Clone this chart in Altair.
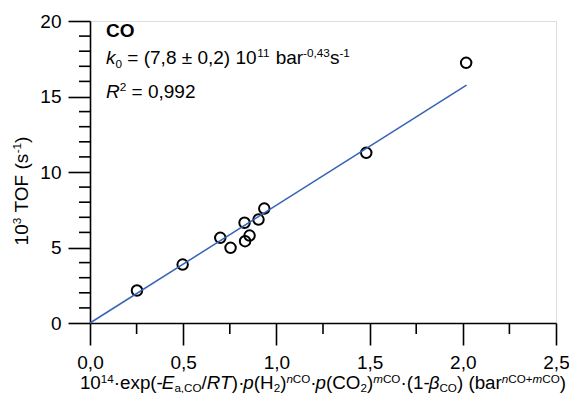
import altair as alt
import pandas as pd

# ---------------- data ----------------
x_vals = [0.252, 0.497, 0.699, 0.754, 0.829, 0.832, 0.856, 0.904, 0.935, 1.482, 2.018]
y_vals = [2.15, 3.87, 5.64, 4.98, 6.64, 5.42, 5.79, 6.85, 7.58, 11.27, 17.23]
fit_x = [0.0, 2.02]
fit_y = [0.0, 15.76]
x_major = [0.0, 0.5, 1.0, 1.5, 2.0, 2.5]
x_minor = [0.25, 0.75, 1.25, 1.75, 2.25]
y_major = [0, 5, 10, 15, 20]
y_minor = [1, 2, 3, 4, 6, 7, 8, 9, 11, 12, 13, 14, 16, 17, 18, 19]

# text pieces: (text, kind)  n=normal, i=italic, b=bold, sup/sub (+i = italic)
legend_line1 = [("CO", "b")]
legend_line2 = [("k", "i"), ("0", "sub"), (" = (7,8 \u00b1 0,2) 10", "n"), ("11", "sup"),
                (" bar", "n"), ("-0,43", "sup"), ("s", "n"), ("-1", "sup")]
legend_line3 = [("R", "i"), ("2", "sup"), (" = 0,992", "n")]
x_title = [("10", "n"), ("14", "sup"), ("\u00b7exp(-", "n"), ("E", "i"), ("a,CO", "sub"),
           ("/", "n"), ("RT", "i"), (")\u00b7", "n"), ("p", "i"), ("(H", "n"), ("2", "sub"),
           (")", "n"), ("n", "supi"), ("CO", "sup"), ("\u00b7", "n"), ("p", "i"), ("(CO", "n"),
           ("2", "sub"), (")", "n"), ("m", "supi"), ("CO", "sup"), ("\u00b7(1-", "n"),
           ("\u03b2", "i"), ("CO", "sub"), (") (bar", "n"), ("n", "supi"), ("CO+", "sup"),
           ("m", "supi"), ("CO", "sup"), (")", "n")]
y_title = [("10", "n"), ("3", "sup"), (" TOF (s", "n"), ("-1", "sup"), (")", "n")]

# ---------------- layout ----------------
W, H = 466, 302
XMAX, YMAX = 2.5, 20
FONT = "Liberation Sans"
FS = 19
FS_XT = 18.8
SS = 0.62
BLUE = "#3563b5"

ADV = {' ': 278, '(': 333, ')': 333, '+': 584, ',': 278, '-': 333, '.': 278, '/': 278,
       '=': 584, '\u00b1': 584, '\u00b7': 278, 'A': 667, 'C': 722, 'E': 667, 'F': 611,
       'H': 722, 'O': 778, 'R': 722, 'T': 611, 'a': 556, 'b': 556, 'e': 556, 'k': 500,
       'm': 833, 'n': 556, 'p': 556, 'r': 333, 's': 500, 'x': 500, '\u03b2': 576}
for d in "0123456789":
    ADV[d] = 556

SMALL = {"sup", "sub", "supi", "subi"}


def dx(px):
    return px / W * XMAX


def dy(py):
    return (H - py) / H * YMAX


def seg_w(text, kind, fs):
    size = fs * SS if kind in SMALL else fs
    return sum(ADV.get(c, 556) for c in text) / 1000.0 * size


def style_of(kind):
    return {"n": "n", "i": "i", "b": "b", "sup": "s", "sub": "s"}.get(kind, "si")


def lay(segs, x0, y0, fs, rot=False, sup=0.36, sub=0.2):
    rows = []
    cur = 0.0
    for text, kind in segs:
        off = 0.0
        if kind.startswith("sup"):
            off = -sup * fs
        elif kind.startswith("sub"):
            off = sub * fs
        lead = len(text) - len(text.lstrip(" "))
        shown = text.strip(" ")
        start = cur + seg_w(" " * lead, kind, fs)
        if rot:
            px, py = x0 + off, y0 - start
        else:
            px, py = x0 + start, y0 + off
        rows.append({"tx": dx(px), "ty": dy(py), "t": shown,
                     "st": style_of(kind), "rot": rot, "fs": fs})
        cur += seg_w(text, kind, fs)
    return rows


def total(segs, fs):
    return sum(seg_w(t, k, fs) for t, k in segs)


rows = []
rows += lay(legend_line1, 16, 16, FS)
rows += lay(legend_line2, 16, 43, FS)
rows += lay(legend_line3, 16, 77, FS)
rows += lay(x_title, W / 2 - total(x_title, FS_XT) / 2, 368, FS_XT, sup=0.33, sub=0.16)
rows += lay(y_title, -62, 170 + total(y_title, FS) / 2, FS, rot=True)
text_df = pd.DataFrame(rows)

xs = alt.Scale(domain=[0, XMAX], nice=False, zero=False)
ys = alt.Scale(domain=[0, YMAX], nice=False, zero=False)

pts = pd.DataFrame({"x": x_vals, "y": y_vals})
fit = pd.DataFrame({"x": fit_x, "y": fit_y})

axis_common = dict(grid=False, title=None, domainColor="black", tickColor="black",
                   domainWidth=1.6, tickWidth=1.6, tickSize=22, labelFont=FONT,
                   labelFontSize=FS, labelColor="black", labelOverlap=False)

points = alt.Chart(pts).mark_point(shape="circle", filled=False, size=110,
                                   strokeWidth=2, color="black", opacity=1).encode(
    x=alt.X("x:Q", scale=xs, axis=alt.Axis(values=x_major, labelFlush=False, labelPadding=8,
                                            labelExpr="replace(format(datum.value, '.1f'), '.', ',')",
                                            **axis_common)),
    y=alt.Y("y:Q", scale=ys, axis=alt.Axis(values=y_major, labelPadding=7, format="d",
                                            **axis_common)),
)

line = alt.Chart(fit).mark_line(color=BLUE, strokeWidth=1.5).encode(
    x=alt.X("x:Q", scale=xs, title=None), y=alt.Y("y:Q", scale=ys, title=None))

xminor = alt.Chart(pd.DataFrame({"v": x_minor})).mark_rule(
    color="black", strokeWidth=1.6).encode(
    x=alt.X("v:Q", scale=xs, title=None), y=alt.value(H), y2=alt.value(H + 11))

yminor = alt.Chart(pd.DataFrame({"v": y_minor})).mark_rule(
    color="black", strokeWidth=1.6).encode(
    y=alt.Y("v:Q", scale=ys, title=None), x=alt.value(-11), x2=alt.value(0))

STYLES = {"n": ("normal", "normal"), "i": ("italic", "normal"),
          "b": ("normal", "bold"), "s": ("normal", "normal"),
          "si": ("italic", "normal")}

text_layers = []
for (st, rot, fs), sub in text_df.groupby(["st", "rot", "fs"]):
    fstyle, fweight = STYLES[st]
    size = fs * SS if st in ("s", "si") else fs
    text_layers.append(
        alt.Chart(sub.reset_index(drop=True)).mark_text(
            align="left", baseline="alphabetic", font=FONT, fontSize=size,
            fontStyle=fstyle, fontWeight=fweight, color="black",
            angle=270 if rot else 0).encode(
            x=alt.X("tx:Q", scale=xs, title=None),
            y=alt.Y("ty:Q", scale=ys, title=None),
            text="t:N"))

chart = alt.layer(points, line, xminor, yminor, *text_layers).properties(
    width=W, height=H,
    autosize=alt.AutoSizeParams(type="none"),
    padding={"left": 82, "top": 13, "right": 561 - 82 - W, "bottom": 70},
).configure_view(strokeWidth=0, stroke="transparent").configure(background="white")

chart.save("out.html", embed_options={"renderer": "svg", "actions": False})
